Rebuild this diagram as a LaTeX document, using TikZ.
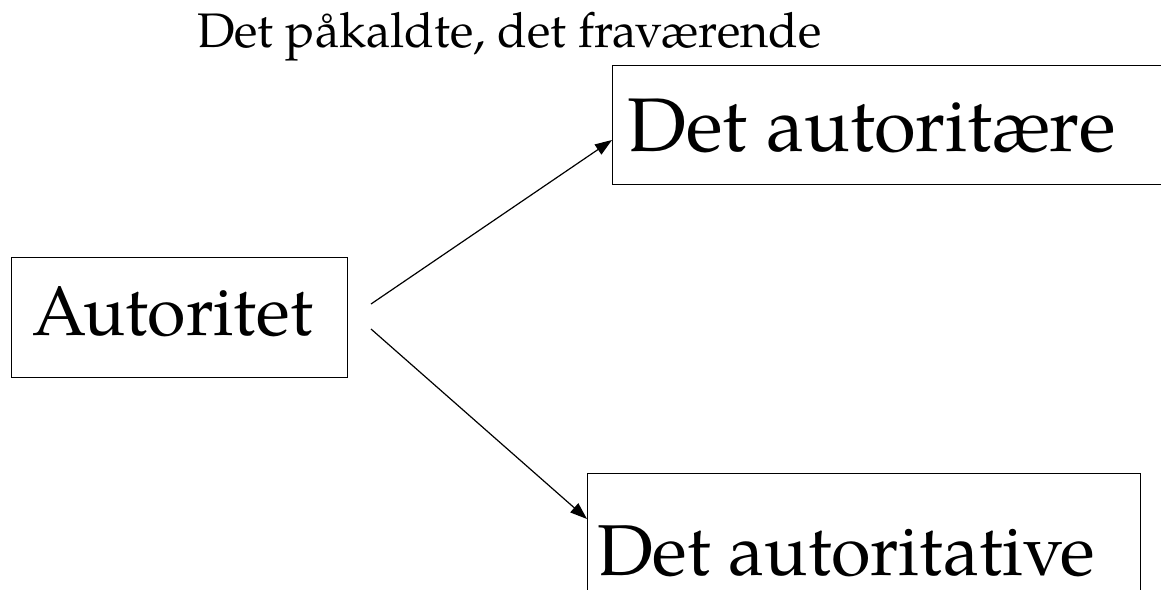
\documentclass[tikz,border=0pt]{standalone}
\usepackage{fontspec}
\setmainfont{TeX Gyre Pagella}
\usetikzlibrary{arrows.meta}
\tikzset{
  box/.style={draw=black, line width=1.3pt, rectangle, inner sep=0pt, anchor=north west},
  bigtext/.style={anchor=base west, inner sep=0pt},
  titletext/.style={anchor=base west, inner sep=0pt, font=\fontsize{48.5}{56}\selectfont},
  conn/.style={line width=1.2pt, -{Triangle[length=17pt,width=12pt]}}
}
\begin{document}
\begin{tikzpicture}[x=1pt,y=-1pt]
\useasboundingbox (0,0) rectangle (1161,589);
\clip (0,0) rectangle (1161,589);
\fill[white] (0,0) rectangle (1161,589);
% title
\node[titletext] (title) at (197,47) {Det påkaldte, det fraværende};
% boxes
\node[box, minimum width=600pt, minimum height=119pt] (top) at (612,65) {};
\node[bigtext, font=\fontsize{76}{86}\selectfont] (topT) at (627,151) {Det autoritære};
\node[box, minimum width=336pt, minimum height=120pt] (aut) at (11,257) {};
\node[bigtext, font=\fontsize{70}{80}\selectfont] (autT) at (32,335) {Autoritet};
\node[box, minimum width=553pt, minimum height=140pt] (bot) at (587,473) {};
\node[bigtext, font=\fontsize{72}{82}\selectfont] (botT) at (597,575) {Det autoritative};
% connector ends
\coordinate (s1) at (371,304);
\coordinate (s2) at (371,329);
\coordinate (e1) at (top.north west |- 0,140);
\coordinate (e2) at (bot.north west |- 0,519);
\draw[conn] (s1) -- (e1);
\draw[conn] (s2) -- (e2);
\end{tikzpicture}
\end{document}
